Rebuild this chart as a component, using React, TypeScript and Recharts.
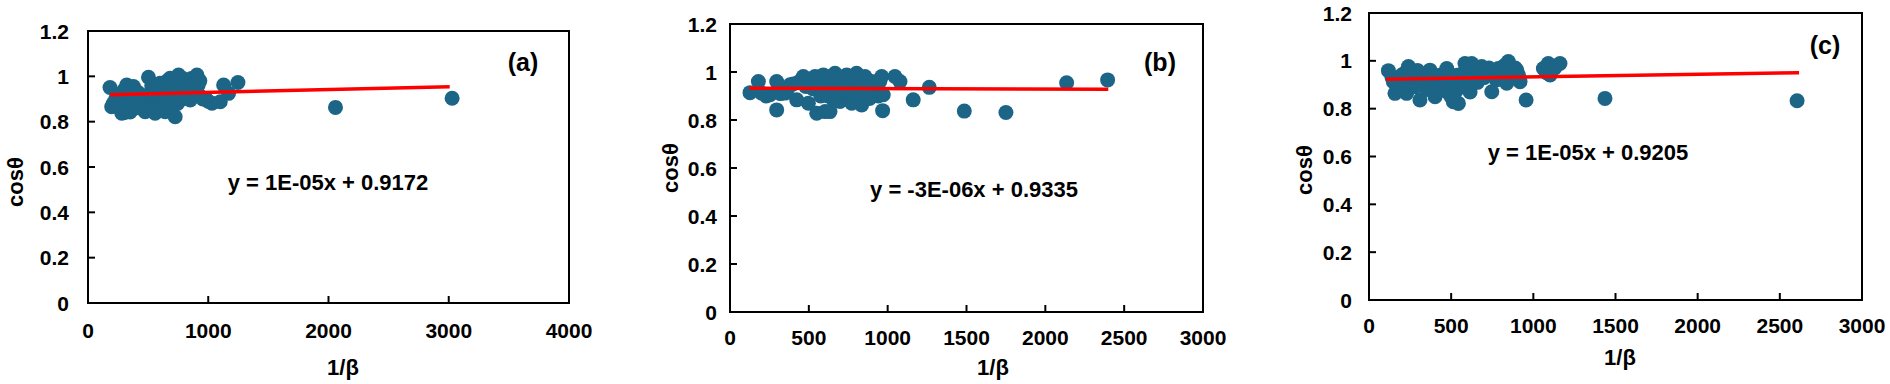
import React from 'react';
import { ScatterChart, Scatter, XAxis, YAxis, ReferenceArea } from 'recharts';

const FONT = '"Liberation Sans", Arial, Helvetica, sans-serif';
const DOT = '#1c6587';
const RED = '#ff0000';

const yTicks = [0, 0.2, 0.4, 0.6, 0.8, 1, 1.2];
const xTicksA = [0, 1000, 2000, 3000, 4000];
const xTicksBC = [0, 500, 1000, 1500, 2000, 2500, 3000];

// Panel (a)
const aX = [183,197,210,230,250,260,265,281,290,300,300,310,320,322,330,340,345,350,355,365,370,378,385,395,405,415,433,440,
  475,490,503,510,520,530,545,558,565,575,585,600,610,620,630,642,650,660,670,683,690,700,710,725,735,745,753,760,770,780,
  790,800,810,820,830,850,860,870,880,895,906,915,930,940,955,980,1000,
  1031,1100,1128,1169,1247,2058,3028];
const aY = [0.951,0.866,0.88,0.90,0.87,0.89,0.92,0.837,0.86,0.94,0.84,0.90,0.95,0.962,0.88,0.85,0.90,0.843,0.92,0.94,0.87,0.955,0.89,0.86,0.91,0.93,0.896,0.87,
  0.844,0.90,0.996,0.87,0.93,0.96,0.85,0.837,0.90,0.94,0.88,0.969,0.86,0.92,0.95,0.844,0.89,0.98,0.93,0.991,0.87,0.95,0.90,0.822,0.96,0.88,1.006,0.93,0.97,0.90,
  0.99,0.95,0.92,0.98,0.96,0.896,0.99,0.94,0.97,0.92,1.006,0.96,0.98,0.91,0.90,0.90,0.89,
  0.881,0.888,0.962,0.925,0.973,0.863,0.903];
const trendAX = [183, 3008];
const trendAY = [0.919, 0.954];

// Panel (b)
const bX = [127,180,201,230,254,296,296,320,349,365,381,400,423,440,465,480,497,510,525,539,550,560,575,592,603,615,634,645,655,666,
  680,690,698,710,725,740,750,760,772,772,785,795,803,815,825,835,845,856,870,885,900,909,925,940,950,962,968,972,
  600,620,630,660,700,730,790,820,860,880,1046,1078,1162,1264,1486,1750,2135,2395];
const bY = [0.914,0.960,0.912,0.90,0.905,0.960,0.842,0.91,0.912,0.93,0.947,0.95,0.884,0.96,0.981,0.94,0.870,0.95,0.93,0.981,0.828,0.96,0.90,0.988,0.835,0.95,0.835,0.97,0.92,0.995,
  0.95,0.90,0.877,0.96,0.93,0.988,0.91,0.96,0.870,0.912,0.95,0.93,0.995,0.97,0.91,0.863,0.95,0.981,0.93,0.89,0.96,0.912,0.94,0.90,0.96,0.981,0.839,0.905,
  0.97,0.90,0.98,0.88,0.93,0.97,0.90,0.94,0.90,0.96,0.981,0.960,0.884,0.936,0.837,0.831,0.955,0.967];
const trendBX = [123, 2399];
const trendBY = [0.932, 0.928];

// Panel (c)
const cX = [118,140,148,158,175,190,199,210,220,229,240,255,265,280,295,310,320,335,350,360,371,385,402,415,430,445,460,473,473,490,
  500,513,525,535,544,555,565,575,584,595,605,615,625,635,645,660,675,686,700,715,730,747,760,775,787,800,815,825,838,848,
  860,875,890,899,910,919,956,1061,1080,1091,1102,1130,1162,1436,2605];
const cY = [0.959,0.93,0.913,0.864,0.89,0.92,0.941,0.88,0.95,0.864,0.976,0.91,0.94,0.892,0.96,0.836,0.90,0.93,0.88,0.95,0.961,0.91,0.850,0.89,0.94,0.92,0.88,0.968,0.871,0.91,
  0.85,0.829,0.87,0.94,0.822,0.89,0.92,0.95,0.989,0.90,0.93,0.87,0.989,0.906,0.94,0.91,0.96,0.976,0.93,0.95,0.97,0.871,0.94,0.92,0.968,0.95,0.93,0.98,0.906,0.997,
  0.95,0.93,0.97,0.961,0.94,0.913,0.836,0.968,0.95,0.989,0.941,0.97,0.989,0.843,0.833];
const trendCX = [103, 2617];
const trendCY = [0.923, 0.950];

const equations = ['y = 1E-05x + 0.9172', 'y = -3E-06x + 0.9335', 'y = 1E-05x + 0.9205'];
const panelLabels = ['(a)', '(b)', '(c)'];
const xTitle = '1/β';
const yTitle = 'cosθ';

const zip = (xs: number[], ys: number[]) => xs.map((x, i) => ({ x, y: ys[i] }));

type Panel = {
  left: number;
  margin: { top: number; right: number; bottom: number; left: number };
  xMax: number;
  xTicks: number[];
  data: { x: number; y: number }[];
  trend: { x: number; y: number }[];
  xLabelDy: number;
  yLabelGap: number;
  eq: string;
  eqPos: [number, number];
  letter: string;
  letterPos: [number, number];
  xTitlePos: [number, number];
  yTitlePos: [number, number];
};

const panels: Panel[] = [
  {
    left: 0,
    margin: { top: 31, right: 61, bottom: 51, left: 28 },
    xMax: 4000, xTicks: xTicksA,
    data: zip(aX, aY), trend: zip(trendAX, trendAY),
    xLabelDy: 27, yLabelGap: 19,
    eq: equations[0], eqPos: [328, 183],
    letter: panelLabels[0], letterPos: [523, 62],
    xTitlePos: [343, 368], yTitlePos: [16, 182],
  },
  {
    left: 630,
    margin: { top: 24, right: 57, bottom: 42, left: 40 },
    xMax: 3000, xTicks: xTicksBC,
    data: zip(bX, bY), trend: zip(trendBX, trendBY),
    xLabelDy: 25, yLabelGap: 13,
    eq: equations[1], eqPos: [974, 190],
    letter: panelLabels[1], letterPos: [1160, 62],
    xTitlePos: [993, 368], yTitlePos: [671, 168],
  },
  {
    left: 1260,
    margin: { top: 13, right: 28, bottom: 54, left: 49 },
    xMax: 3000, xTicks: xTicksBC,
    data: zip(cX, cY), trend: zip(trendCX, trendCY),
    xLabelDy: 25, yLabelGap: 17,
    eq: equations[2], eqPos: [1588, 153],
    letter: panelLabels[2], letterPos: [1825, 45],
    xTitlePos: [1620, 358], yTitlePos: [1305, 170],
  },
];

const TICK_FONT = 21;

const makeXTick = (dy: number) => (props: any) => {
  const { x, y, payload } = props;
  return (
    <g>
      <line x1={x} y1={y} x2={x} y2={y - 7} stroke="#000" strokeWidth={2} />
      <text x={x} y={y + dy} textAnchor="middle" dominantBaseline="central" fontSize={TICK_FONT} fontWeight="bold" fontFamily={FONT} fill="#000">
        {payload.value}
      </text>
    </g>
  );
};

const makeYTick = (gap: number) => (props: any) => {
  const { x, y, payload } = props;
  return (
    <g>
      <line x1={x} y1={y} x2={x + 7} y2={y} stroke="#000" strokeWidth={2} />
      <text x={x - gap} y={y} textAnchor="end" dominantBaseline="central" fontSize={TICK_FONT} fontWeight="bold" fontFamily={FONT} fill="#000">
        {payload.value}
      </text>
    </g>
  );
};

const Dot = (props: any) => <circle cx={props.cx} cy={props.cy} r={7.5} fill={DOT} />;
const NoShape = () => <g />;

const textStyle = (x: number, y: number, size: number, rotate = false): React.CSSProperties => ({
  position: 'absolute',
  left: x,
  top: y,
  transform: `translate(-50%, -50%)${rotate ? ' rotate(-90deg)' : ''}`,
  fontFamily: FONT,
  fontWeight: 'bold',
  fontSize: size,
  lineHeight: 1,
  whiteSpace: 'nowrap',
  color: '#000',
});

export default function App() {
  return (
    <div style={{ position: 'absolute', left: 0, top: 0, width: 1890, height: 384, background: '#fff', overflow: 'hidden' }}>
      {panels.map((p, i) => (
        <div key={i} style={{ position: 'absolute', left: p.left, top: 0 }}>
          <ScatterChart width={630} height={384} margin={p.margin}>
            <XAxis
              type="number" dataKey="x" domain={[0, p.xMax]} ticks={p.xTicks} interval={0}
              axisLine={false} tickLine={false} tickSize={0} tickMargin={0} height={30}
              tick={makeXTick(p.xLabelDy)} allowDataOverflow
            />
            <YAxis
              type="number" dataKey="y" domain={[0, 1.2]} ticks={yTicks} interval={0}
              axisLine={false} tickLine={false} tickSize={0} tickMargin={0} width={60}
              tick={makeYTick(p.yLabelGap)} allowDataOverflow
            />
            <ReferenceArea x1={0} x2={p.xMax} y1={0} y2={1.2} fill="none" fillOpacity={0} stroke="#000" strokeWidth={2} ifOverflow="visible" />
            <Scatter data={p.data} shape={Dot} isAnimationActive={false} />
            <Scatter data={p.trend} shape={NoShape} line={{ stroke: RED, strokeWidth: 3.5 }} isAnimationActive={false} />
          </ScatterChart>
        </div>
      ))}
      {panels.map((p, i) => (
        <React.Fragment key={'t' + i}>
          <div style={textStyle(p.eqPos[0], p.eqPos[1], 22)}>{p.eq}</div>
          <div style={textStyle(p.letterPos[0], p.letterPos[1], 25)}>{p.letter}</div>
          <div style={textStyle(p.xTitlePos[0], p.xTitlePos[1], 22)}>{xTitle}</div>
          <div style={textStyle(p.yTitlePos[0], p.yTitlePos[1], 22, true)}>{yTitle}</div>
        </React.Fragment>
      ))}
    </div>
  );
}
